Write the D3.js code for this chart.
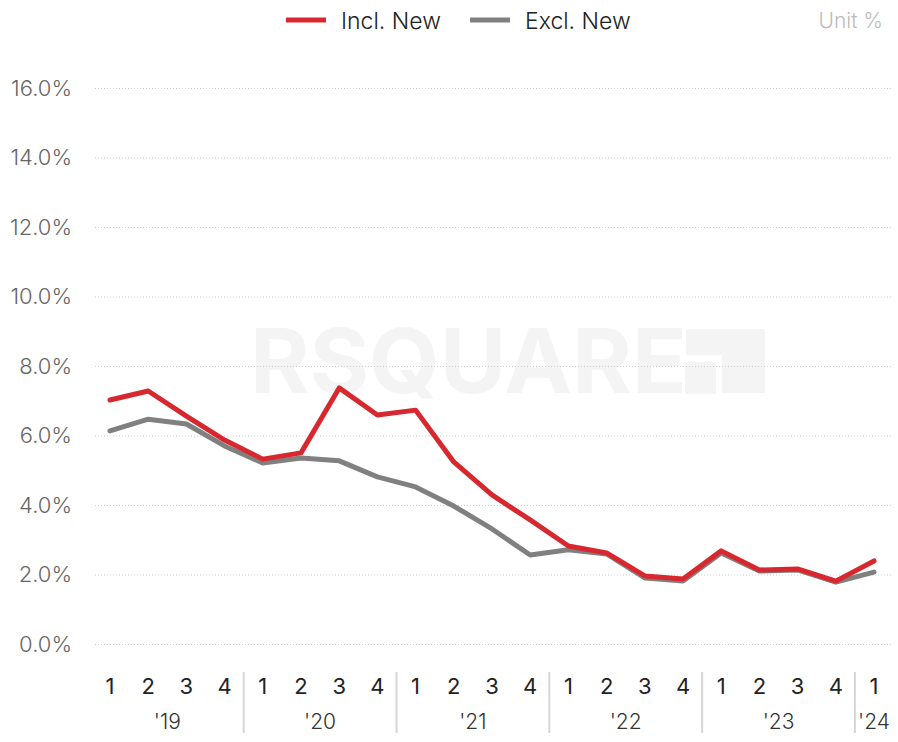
<!DOCTYPE html>
<html>
<head>
<meta charset="utf-8">
<script src="https://cdn.jsdelivr.net/npm/d3@7"></script>
<style>
  body { margin: 0; background: #fff; }
  svg { display: block; font-family: Inter, "Noto Sans", sans-serif; }
</style>
</head>
<body>
<svg width="898" height="742"></svg>
<script>
// quarters 2019 Q1 .. 2024 Q1
let years = ["'19", "'20", "'21", "'22", "'23", "'24"]
let quarters = [1, 2, 3, 4, 1, 2, 3, 4, 1, 2, 3, 4, 1, 2, 3, 4, 1, 2, 3, 4, 1]
let quarterYear = [0, 0, 0, 0, 1, 1, 1, 1, 2, 2, 2, 2, 3, 3, 3, 3, 4, 4, 4, 4, 5]
let inclNew = [7.02, 7.28, 6.56, 5.87, 5.32, 5.50, 7.37, 6.59, 6.73, 5.24, 4.29, 3.57,
  2.82, 2.62, 1.96, 1.87, 2.68, 2.13, 2.16, 1.81, 2.39]
let exclNew = [6.13, 6.47, 6.33, 5.70, 5.21, 5.35, 5.27, 4.81, 4.52, 3.97, 3.31, 2.56,
  2.71, 2.59, 1.90, 1.81, 2.62, 2.10, 2.13, 1.78, 2.07]
let yTicks = [0, 2, 4, 6, 8, 10, 12, 14, 16]

let red = '#d7282f'
let gray = '#808080'

let svg = d3.select('svg')

let x = d3.scaleLinear().domain([0, quarters.length - 1]).range([110, 874])
let y = d3.scaleLinear().domain([0, 16]).range([644, 88])
let step = x(1) - x(0)

// watermark
let wm = svg.append('g').attr('fill', '#f4f4f4')
wm.append('text')
  .attr('x', 250).attr('y', 393)
  .attr('font-size', 90).attr('font-weight', 700)
  .attr('textLength', 437).attr('lengthAdjust', 'spacingAndGlyphs')
  .text('RSQUARE')
wm.append('rect').attr('x', 686).attr('y', 329).attr('width', 79).attr('height', 26)
wm.append('rect').attr('x', 722).attr('y', 329).attr('width', 43).attr('height', 64)
wm.append('rect').attr('x', 685).attr('y', 362).attr('width', 31).attr('height', 32)

// grid + y labels
let yAxis = d3.axisLeft(y).tickValues(yTicks)
  .tickSize(-(893 - 95))
  .tickFormat(d => d.toFixed(1) + '%')
svg.append('g')
  .attr('transform', 'translate(95,0)')
  .call(yAxis)
  .call(g => g.select('.domain').remove())
  .call(g => g.selectAll('.tick line')
    .attr('stroke', '#cfcfcf').attr('stroke-dasharray', '1,2'))
  .call(g => g.selectAll('.tick text')
    .attr('x', -23).attr('fill', '#666')
    .attr('font-size', 22).attr('font-weight', 300)
    .attr('font-family', 'Inter, sans-serif'))

// quarter labels
svg.append('g').selectAll('text').data(quarters).join('text')
  .attr('x', (d, i) => x(i))
  .attr('y', 694)
  .attr('text-anchor', 'middle')
  .attr('font-size', 22)
  .attr('fill', '#222')
  .text(d => d)

// year labels
svg.append('g').selectAll('text').data(years).join('text')
  .attr('x', (d, i) => {
    let idx = quarterYear.map((v, j) => v === i ? j : -1).filter(j => j >= 0)
    return (x(idx[0]) + x(idx[idx.length - 1])) / 2
  })
  .attr('y', 729)
  .attr('text-anchor', 'middle')
  .attr('font-size', 21).attr('font-weight', 300)
  .attr('fill', '#333')
  .text(d => d)

// year separators
svg.append('g').selectAll('line').data(years.slice(1)).join('line')
  .attr('x1', (d, i) => x((i + 1) * 4) - step / 2)
  .attr('x2', (d, i) => x((i + 1) * 4) - step / 2)
  .attr('y1', 672).attr('y2', 733)
  .attr('stroke', '#d6d6d6').attr('stroke-width', 2)

// lines
let line = d3.line().x((d, i) => x(i)).y(d => y(d))
svg.append('path').datum(exclNew)
  .attr('d', line).attr('fill', 'none')
  .attr('stroke', gray).attr('stroke-width', 5)
  .attr('stroke-linejoin', 'round').attr('stroke-linecap', 'round')
svg.append('path').datum(inclNew)
  .attr('d', line).attr('fill', 'none')
  .attr('stroke', red).attr('stroke-width', 5)
  .attr('stroke-linejoin', 'round').attr('stroke-linecap', 'round')

// legend
let legend = svg.append('g')
let items = [{ name: 'Incl. New', color: red, x: 286 }, { name: 'Excl. New', color: gray, x: 470 }]
items.forEach(it => {
  legend.append('line')
    .attr('x1', it.x).attr('x2', it.x + 40).attr('y1', 20).attr('y2', 20)
    .attr('stroke', it.color).attr('stroke-width', 5)
  legend.append('text')
    .attr('x', it.x + 55).attr('y', 29)
    .attr('font-size', 23).attr('font-weight', 300).attr('fill', '#222')
    .text(it.name)
})
svg.append('text')
  .attr('x', 883).attr('y', 28)
  .attr('text-anchor', 'end')
  .attr('font-size', 21).attr('font-weight', 300).attr('fill', '#bbb')
  .text('Unit %')
</script>
</body>
</html>
